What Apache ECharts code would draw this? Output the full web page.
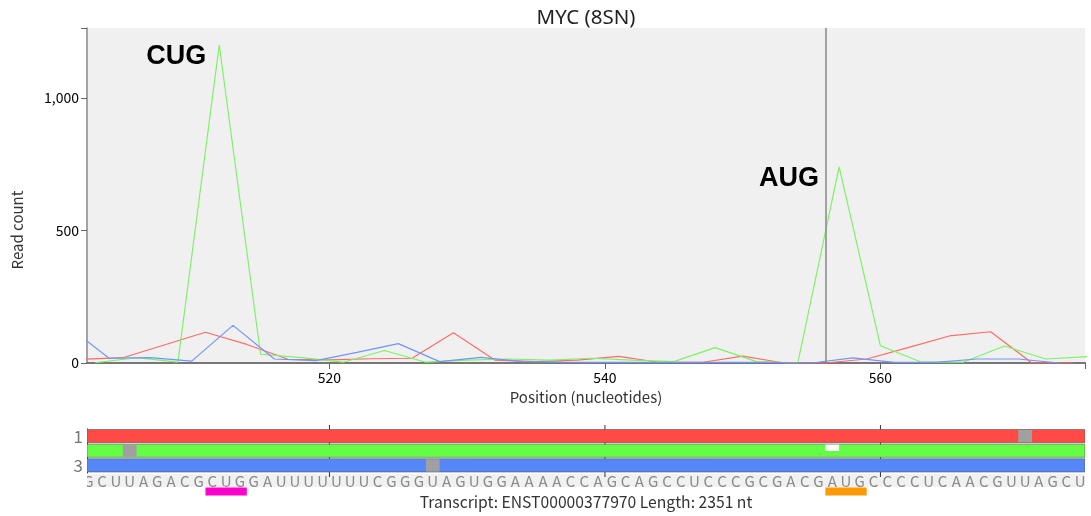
<!DOCTYPE html>
<html lang="en">
<head>
<meta charset="UTF-8">
<title>MYC (8SN)</title>
<script src="https://cdn.jsdelivr.net/npm/echarts@6/dist/echarts.min.js"></script>
<style>
  html, body { margin: 0; padding: 0; background: #fff; }
  #main { width: 1091px; height: 516px; }
</style>
</head>
<body>
<div id="main"></div>
<script>
// --- data ---
var frame1Pos = [502, 505, 508, 511, 514, 517, 520, 523, 526, 529, 532, 535, 538, 541, 544, 547, 550, 553, 556, 559, 562, 565, 568, 571, 574];
var frame1Val = [14, 20, 68, 116, 70, 14, 12, 16, 18, 114, 11, 5, 11, 25, 2, 2, 26, 0, 0, 15, 58, 102, 118, 0, 0];

var frame2Pos = [503, 506, 509, 512, 515, 518, 521, 524, 527, 530, 533, 536, 539, 542, 545, 548, 551, 554, 557, 560, 563, 566, 569, 572, 575];
var frame2Val = [1, 20, 3, 1200, 33, 20, 3, 47, 3, 11, 15, 11, 18, 11, 5, 58, 5, 0, 740, 65, 3, 3, 64, 15, 24];

var frame3Pos = [501, 504, 507, 510, 513, 516, 519, 522, 525, 528, 531, 534, 537, 540, 543, 546, 549, 552, 555, 558, 561, 564, 567, 570, 573];
var frame3Val = [140, 18, 20, 7, 142, 15, 9, 40, 73, 5, 21, 5, 3, 2, 2, 2, 2, 2, 0, 19, 2, 2, 15, 15, 0];

var xTicks = [520, 540, 560];
var yTicks = [0, 500, 1000];
var frames = ['1', '2', '3'];

var seqStart = 502;
var sequence = 'GCUUAGACGCUGGAUUUU' + 'UUUCGGGUAGUGGAAAACCA' + 'GCAGCCUCCCGCGACGAUGC' + 'CCCUCAACGUUAGCU';

// [position, frame index]
var stopCodons = [[570, 0], [505, 1], [527, 2]];
var startCodons = [[556, 1]];
// [start, end] of highlighted codons (CUG, AUG)
var codons = [[511, 514], [556, 559]];

var aUGLine = 556;

// --- styles ---
var X_MIN = 502.4, X_MAX = 574.85, Y_MAX = 1264;
var frameColors = ['#ff4a45', '#64fc44', '#5687f9'];
var lineColors = ['#ff6b66', '#7df266', '#7295fa'];
var codonColors = ['#ff00cc', '#ff9900'];
var FONT = '"Noto Sans CJK JP", "Noto Sans", sans-serif';

function pairs(pos, val) {
    var out = [];
    for (var i = 0; i < pos.length; i++) out.push([pos[i], val[i]]);
    return out;
}

var myChart = echarts.init(document.getElementById('main'));

var option = {
    animation: false,
    textStyle: { fontFamily: FONT },
    graphic: [
        { type: 'text', x: 586, y: 18, style: { text: 'MYC (8SN)', font: '20.5px "Noto Sans", sans-serif', fill: '#222', align: 'center', verticalAlign: 'middle' } },
        { type: 'text', x: 17, y: 230, rotation: Math.PI / 2, style: { text: 'Read count', font: '15px ' + FONT, fill: '#333', align: 'center', verticalAlign: 'middle' } },
        { type: 'text', x: 586, y: 502, style: { text: 'Transcript: ENST00000377970 Length: 2351 nt', font: '15.7px ' + FONT, fill: '#333', align: 'center', verticalAlign: 'middle' } }
    ],
    grid: [
        { left: 87, right: 6, top: 28, bottom: 153, show: true, backgroundColor: '#f0f0f0', borderWidth: 0 },
        { left: 87, right: 6, top: 429, height: 44 },
        { left: 87, right: 6, top: 474, height: 13, show: true, backgroundColor: '#f1f1f1', borderWidth: 0 }
    ],
    xAxis: [
        {
            gridIndex: 0, type: 'value', min: X_MIN, max: X_MAX,
            axisLine: { show: true, lineStyle: { color: '#777', width: 2 } },
            axisTick: { show: true, customValues: xTicks.concat([X_MAX]), length: 6, lineStyle: { color: '#666' } },
            axisLabel: { customValues: xTicks, color: '#000', fontSize: 14, margin: 8 },
            splitLine: { show: false },
            name: 'Position (nucleotides)', nameLocation: 'middle', nameGap: 27,
            nameTextStyle: { fontSize: 15, color: '#333' }
        },
        {
            gridIndex: 1, type: 'value', min: X_MIN, max: X_MAX, position: 'top',
            axisLine: { show: false }, axisTick: { show: false }, axisLabel: { show: false }, splitLine: { show: false }
        },
        {
            gridIndex: 2, type: 'value', min: X_MIN, max: X_MAX,
            axisLine: { show: false }, axisTick: { show: false }, axisLabel: { show: false }, splitLine: { show: false }
        }
    ],
    yAxis: [
        {
            gridIndex: 0, type: 'value', min: 0, max: Y_MAX,
            axisLine: { show: true, lineStyle: { color: '#888', width: 1.5 } },
            axisTick: { show: true, customValues: yTicks.concat([Y_MAX]), length: 6, lineStyle: { color: '#666' } },
            axisLabel: {
                customValues: yTicks, color: '#000', fontSize: 14, margin: 8,
                formatter: function (v) { return v.toLocaleString('en-US'); }
            },
            splitLine: { show: false }
        },
        {
            gridIndex: 1, type: 'category', data: frames, inverse: true,
            axisLine: { show: true, lineStyle: { color: '#333', width: 1 } },
            axisTick: { show: false },
            axisLabel: { color: '#777', fontSize: 17, margin: 4 }
        },
        {
            gridIndex: 2, type: 'value', min: 0, max: 1, show: false
        }
    ],
    series: [
        {
            type: 'line', data: pairs(frame1Pos, frame1Val), showSymbol: false, symbol: 'none',
            lineStyle: { color: lineColors[0], width: 1.2 }, itemStyle: { color: lineColors[0] },
            markLine: {
                silent: true, symbol: 'none', label: { show: false },
                lineStyle: { color: '#888', width: 1.5, type: 'solid' },
                data: [{ xAxis: aUGLine }]
            }
        },
        {
            type: 'line', data: pairs(frame2Pos, frame2Val), showSymbol: false, symbol: 'none',
            lineStyle: { color: lineColors[1], width: 1.2 }, itemStyle: { color: lineColors[1] },
            markPoint: {
                symbol: 'circle', symbolSize: 0,
                label: { show: true, color: '#000', fontSize: 27, fontWeight: 'bold', fontFamily: '"Liberation Sans", Arial, sans-serif' },
                data: [
                    { coord: [512, 1200], value: 'CUG', label: { formatter: 'CUG', offset: [-43, 12] } },
                    { coord: [557, 740], value: 'AUG', label: { formatter: 'AUG', offset: [-50, 12] } }
                ]
            }
        },
        {
            type: 'line', data: pairs(frame3Pos, frame3Val), showSymbol: false, symbol: 'none',
            lineStyle: { color: lineColors[2], width: 1.2 }, itemStyle: { color: lineColors[2] }
        },
        // tick marks behind the frame tracks
        {
            type: 'custom', xAxisIndex: 1, yAxisIndex: 1, z: 1,
            data: xTicks.map(function (t) { return [t, 0]; }),
            renderItem: function (params, api) {
                var h = api.size([0, 1])[1];
                var top = api.coord([api.value(0), 0]);
                var bot = api.coord([api.value(0), 2]);
                return { type: 'line', shape: { x1: top[0], y1: top[1] - h / 2 - 4, x2: bot[0], y2: bot[1] + h / 2 + 4 }, style: { stroke: '#333', lineWidth: 1 } };
            }
        },
        // frame tracks
        {
            type: 'custom', xAxisIndex: 1, yAxisIndex: 1, z: 2, clip: true,
            data: frames.map(function (f, i) { return [X_MIN, X_MAX, i]; }),
            encode: { x: [0, 1], y: 2 },
            renderItem: function (params, api) {
                var row = api.value(2);
                var a = api.coord([api.value(0), row]);
                var b = api.coord([api.value(1), row]);
                var h = api.size([0, 1])[1];
                return { type: 'rect', shape: { x: a[0], y: a[1] - h / 2 + 0.5, width: b[0] - a[0], height: h - 1.5 },
                    style: { fill: frameColors[row], stroke: '#555', lineWidth: 0.6 } };
            }
        },
        // stop codons (grey) in each frame
        {
            type: 'custom', xAxisIndex: 1, yAxisIndex: 1, z: 3, clip: true,
            data: stopCodons,
            renderItem: function (params, api) {
                var row = api.value(1);
                var a = api.coord([api.value(0), row]);
                var b = api.coord([api.value(0) + 1, row]);
                var h = api.size([0, 1])[1];
                return { type: 'rect', shape: { x: a[0], y: a[1] - h / 2 + 1, width: b[0] - a[0], height: h - 2.5 }, style: { fill: '#a0a0a0' } };
            }
        },
        // start codons (white)
        {
            type: 'custom', xAxisIndex: 1, yAxisIndex: 1, z: 3, clip: true,
            data: startCodons,
            renderItem: function (params, api) {
                var row = api.value(1);
                var a = api.coord([api.value(0), row]);
                var b = api.coord([api.value(0) + 1, row]);
                var h = api.size([0, 1])[1];
                return { type: 'rect', shape: { x: a[0], y: a[1] - h / 2 + 1, width: b[0] - a[0], height: h / 2 - 1 }, style: { fill: '#ffffff' } };
            }
        },
        // sequence letters
        {
            type: 'custom', xAxisIndex: 2, yAxisIndex: 2, clip: true,
            data: sequence.split('').map(function (c, i) { return [seqStart + i, 0.5]; }),
            renderItem: function (params, api) {
                var p = api.coord([api.value(0) + 0.5, 0.5]);
                return { type: 'text', x: p[0], y: p[1] + 0.5,
                    style: { text: sequence.charAt(params.dataIndex), font: '15px ' + FONT, fill: '#8a8a8a', align: 'center', verticalAlign: 'middle' } };
            }
        },
        // CUG / AUG codon bars under the sequence
        {
            type: 'custom', xAxisIndex: 2, yAxisIndex: 2, clip: false,
            data: codons,
            renderItem: function (params, api) {
                var a = api.coord([api.value(0), 0]);
                var b = api.coord([api.value(1), 0]);
                return { type: 'rect', shape: { x: a[0], y: a[1] + 0.5, width: b[0] - a[0], height: 8 }, style: { fill: codonColors[params.dataIndex] } };
            }
        }
    ]
};

myChart.setOption(option);
window.addEventListener('resize', function () {
    myChart.resize();
});
</script>
</body>
</html>
